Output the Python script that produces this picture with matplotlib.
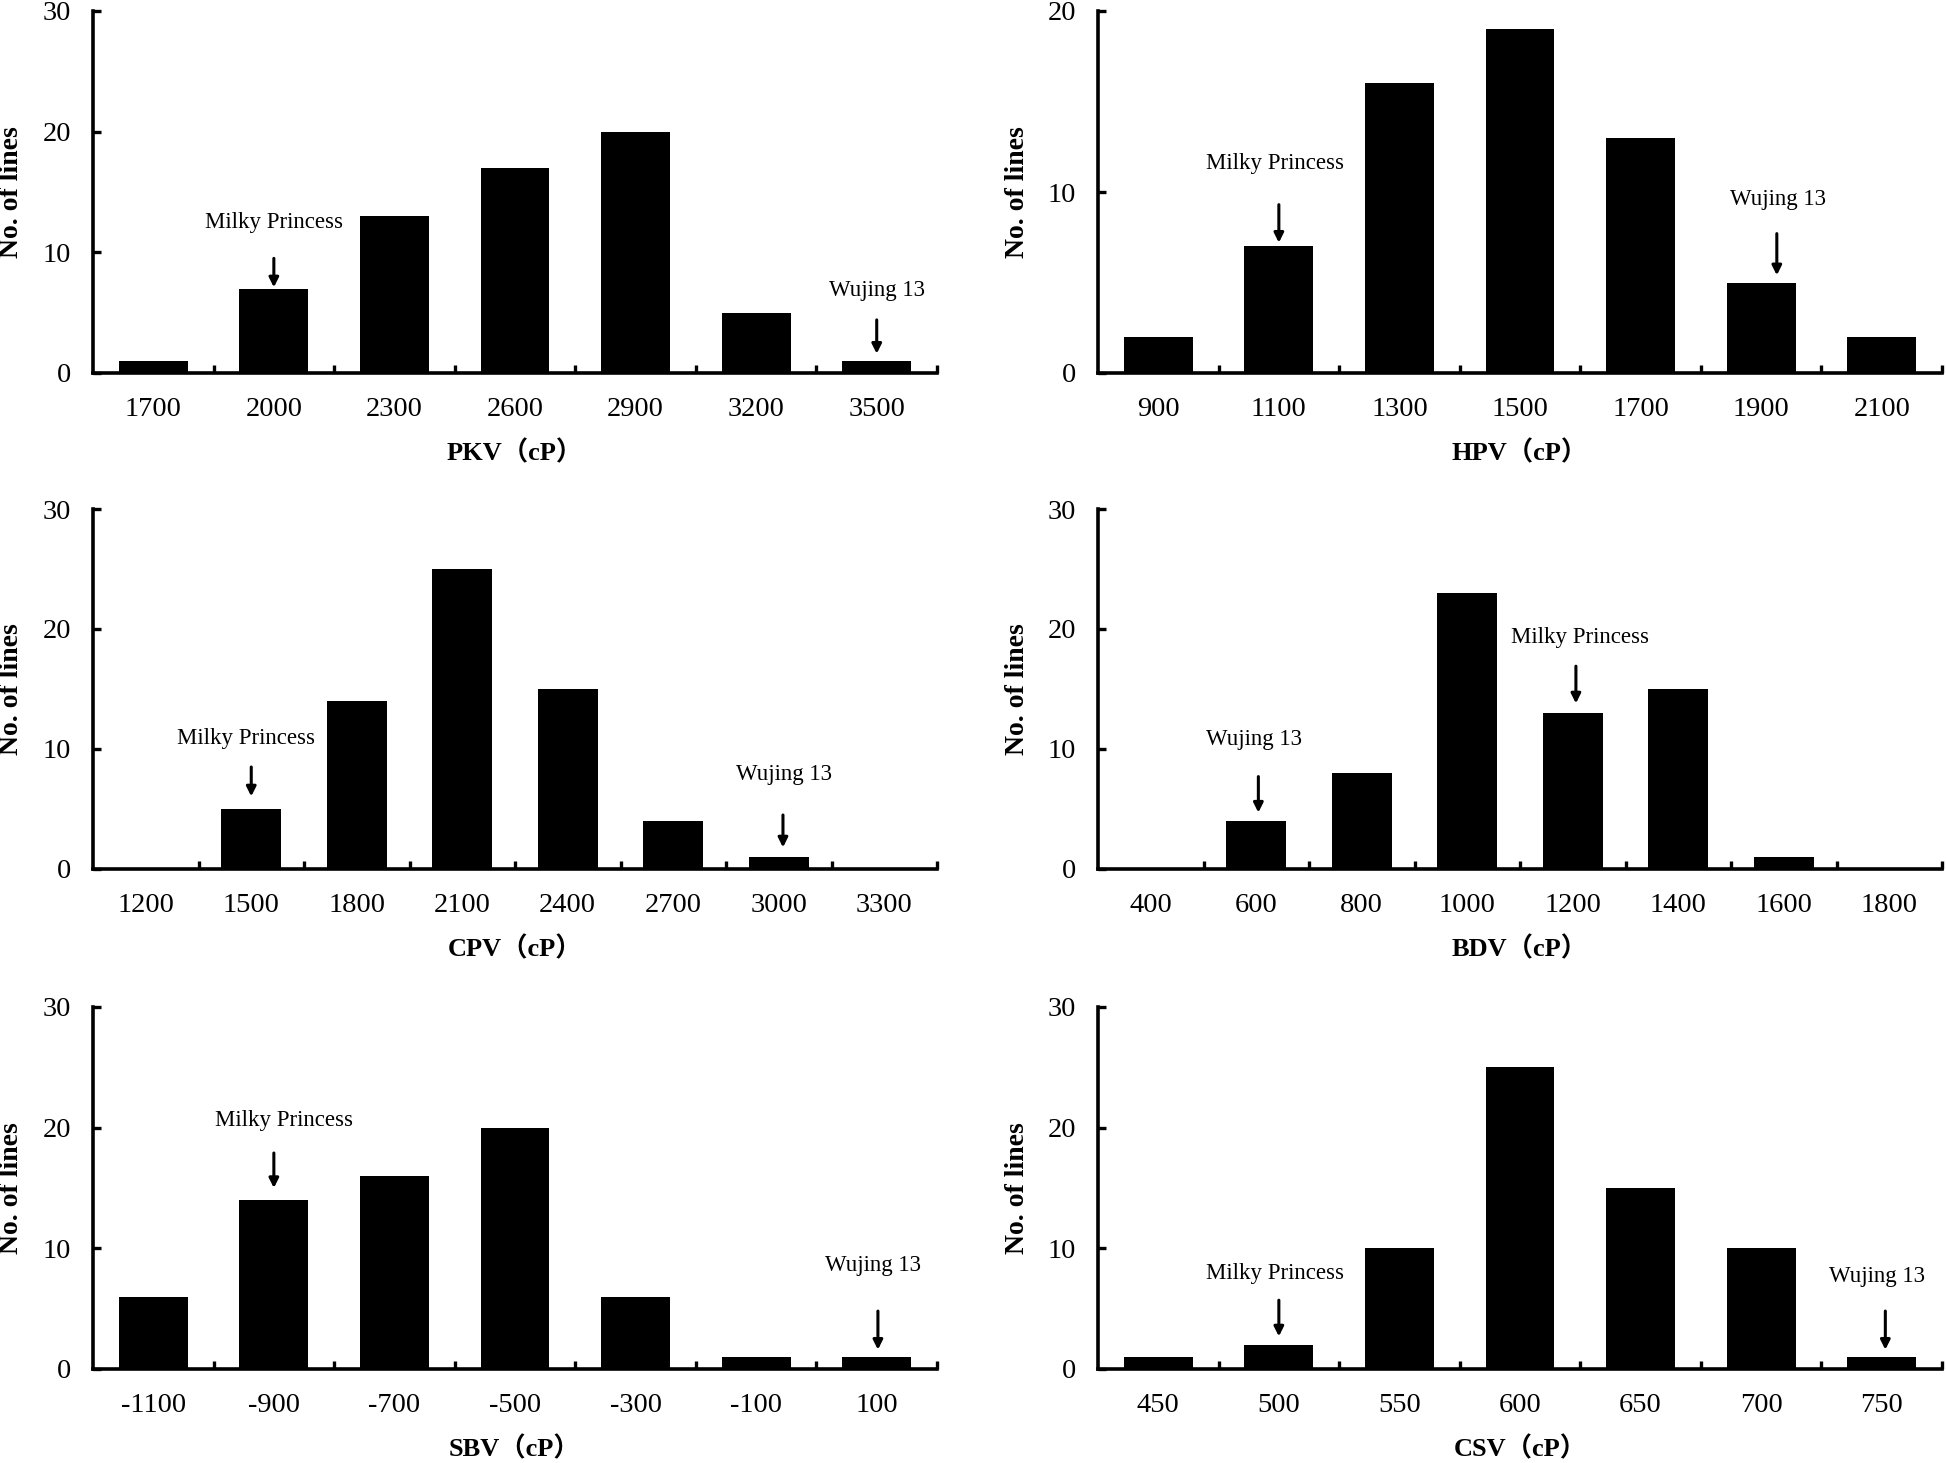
import matplotlib
matplotlib.use("Agg")
import matplotlib.pyplot as plt

# ---------------- data ----------------
pkv_bins = ["1700", "2000", "2300", "2600", "2900", "3200", "3500"]
pkv_counts = [1, 7, 13, 17, 20, 5, 1]

hpv_bins = ["900", "1100", "1300", "1500", "1700", "1900", "2100"]
hpv_counts = [2, 7, 16, 19, 13, 5, 2]

cpv_bins = ["1200", "1500", "1800", "2100", "2400", "2700", "3000", "3300"]
cpv_counts = [0, 5, 14, 25, 15, 4, 1, 0]

bdv_bins = ["400", "600", "800", "1000", "1200", "1400", "1600", "1800"]
bdv_counts = [0, 4, 8, 23, 13, 15, 1, 0]

sbv_bins = ["-1100", "-900", "-700", "-500", "-300", "-100", "100"]
sbv_counts = [6, 14, 16, 20, 6, 1, 1]

csv_bins = ["450", "500", "550", "600", "650", "700", "750"]
csv_counts = [1, 2, 10, 25, 15, 10, 1]

xlabels = ["PKV（cP）", "HPV（cP）", "CPV（cP）", "BDV（cP）", "SBV（cP）", "CSV（cP）"]
ymaxes = [30, 20, 30, 30, 30, 30]
ylabel = "No. of lines"

# annotations: (text, bar index, text y, arrow start y, arrow tip y, text dx, arrow dx)
pkv_notes = [("Milky Princess", 1, 12.5, 9.5, 7.1, 0.0, 0.0),
             ("Wujing 13", 6, 6.8, 4.4, 1.6, 0.0, 0.0)]
hpv_notes = [("Milky Princess", 1, 11.6, 9.3, 7.2, -0.03, 0.0),
             ("Wujing 13", 5, 9.6, 7.7, 5.4, 0.14, 0.13)]
cpv_notes = [("Milky Princess", 1, 10.9, 8.5, 6.05, -0.05, 0.0),
             ("Wujing 13", 6, 7.9, 4.5, 1.8, 0.05, 0.04)]
bdv_notes = [("Wujing 13", 1, 10.8, 7.7, 4.7, -0.02, 0.02),
             ("Milky Princess", 4, 19.3, 16.9, 13.8, 0.07, 0.03)]
sbv_notes = [("Milky Princess", 1, 20.6, 17.9, 15.0, 0.08, 0.0),
             ("Wujing 13", 6, 8.6, 4.8, 1.6, -0.03, 0.01)]
csv_notes = [("Milky Princess", 1, 7.9, 5.7, 2.7, -0.03, 0.0),
             ("Wujing 13", 6, 7.7, 4.8, 1.6, -0.04, 0.03)]

panels = [
    (pkv_bins, pkv_counts, pkv_notes),
    (hpv_bins, hpv_counts, hpv_notes),
    (cpv_bins, cpv_counts, cpv_notes),
    (bdv_bins, bdv_counts, bdv_notes),
    (sbv_bins, sbv_counts, sbv_notes),
    (csv_bins, csv_counts, csv_notes),
]

# ---------------- layout / style ----------------
W, H = 1946, 1463
SERIF = ["Liberation Serif", "Noto Sans CJK SC", "DejaVu Serif"]
plt.rcParams["font.family"] = SERIF

fig = plt.figure(figsize=(W / 100, H / 100), dpi=100)

col_x = [93 / W, 1098 / W]
ax_w = 844 / W
rows = [(1 - 373 / H, 362 / H), (1 - 869 / H, 360 / H), (1 - 1369 / H, 362 / H)]

for i, (bins, counts, notes) in enumerate(panels):
    r, c = divmod(i, 2)
    b, h = rows[r]
    ax = fig.add_axes([col_x[c], b, ax_w, h])
    n = len(bins)
    xs = list(range(n))
    ax.bar(xs, counts, width=0.57, color="black", edgecolor="black", linewidth=0)

    ax.set_xlim(-0.5, n - 0.5)
    ax.set_ylim(0, ymaxes[i])

    for s in ["top", "right"]:
        ax.spines[s].set_visible(False)
    for s in ["left", "bottom"]:
        ax.spines[s].set_linewidth(2.6)
        ax.spines[s].set_color("black")

    # y ticks
    step = 10
    ax.set_yticks(list(range(0, ymaxes[i] + 1, step)))
    ax.tick_params(axis="y", direction="in", length=6, width=2.4, pad=16,
                   labelsize=20.5, colors="black")

    # x ticks: boundaries (major, no label) + centers (minor, labelled)
    ax.set_xticks([k + 0.5 for k in range(n)])
    ax.set_xticklabels([])
    ax.tick_params(axis="x", which="major", direction="in", length=6, width=2.4)
    ax.set_xticks(xs, minor=True)
    ax.set_xticklabels(bins, minor=True)
    ax.tick_params(axis="x", which="minor", length=0, pad=17, labelsize=20.5)

    ax.set_xlabel(xlabels[i], fontsize=19, fontweight="bold", va="center")
    ax.xaxis.set_label_coords(0.5, -80 / 362)
    ax.set_ylabel(ylabel, fontsize=20, fontweight="bold", va="center")
    ax.yaxis.set_label_coords(-81 / 844, 0.5)

    for (txt, idx, ty, ay0, ay1, tdx, adx) in notes:
        ax.text(idx + tdx, ty, txt, ha="center", va="center", fontsize=16.5)
        ax.annotate("", xy=(idx + adx, ay1), xytext=(idx + adx, ay0),
                    arrowprops=dict(arrowstyle="-|>", color="black", lw=2.2,
                                    mutation_scale=14, shrinkA=0, shrinkB=0))

fig.savefig("out.png", dpi=100)
